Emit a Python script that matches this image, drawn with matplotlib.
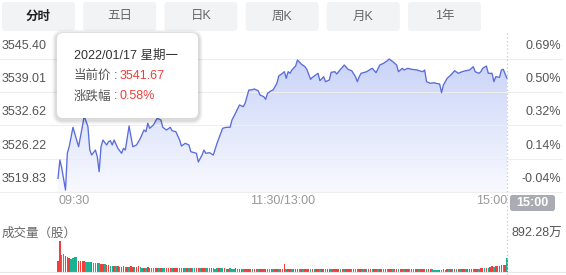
import numpy as np
import matplotlib
matplotlib.use('Agg')
import matplotlib.pyplot as plt
import matplotlib.transforms as mtransforms
from matplotlib.patches import FancyBboxPatch

plt.rcParams['font.family'] = ['Liberation Sans', 'Noto Sans CJK SC']

W, H = 566, 275

# price line: minutes after 09:30 (lunch break removed), index points
minutes = [0, 1, 2, 4, 5, 6, 8, 10, 11, 13,
           14, 16, 17, 18, 20, 21, 22, 23, 24, 26,
           27, 28, 29, 30, 32, 34, 35, 36, 38, 39,
           40, 42, 44, 46, 47, 48, 49, 51, 52, 53,
           55, 56, 58, 60, 61, 63, 65, 66, 68, 70,
           71, 74, 75, 77, 78, 79, 81, 83, 85, 87,
           88, 90, 92, 93, 95, 97, 99, 100, 102, 103,
           105, 107, 108, 110, 111, 112, 114, 115, 117, 118,
           120, 121, 122, 123, 124, 125, 127, 128, 130, 132,
           133, 135, 136, 139, 140, 142, 143, 145, 146, 148,
           149, 151, 152, 153, 155, 157, 159, 160, 161, 162,
           165, 167, 168, 170, 172, 174, 176, 177, 179, 181,
           182, 184, 185, 187, 189, 192, 193, 195, 196, 197,
           199, 201, 202, 204, 205, 206, 208, 210, 212, 214,
           216, 218, 220, 222, 223, 225, 226, 227, 229, 230,
           232, 233, 234, 236, 237, 238, 240]
prices = [3522.46, 3525.98, 3524.44, 3520.21, 3527.33, 3528.54, 3532.27, 3529.83, 3528.54, 3532.38,
          3534.44, 3532.38, 3527.90, 3526.94, 3527.90, 3526.62, 3523.73, 3528.54, 3529.83, 3528.87,
          3529.50, 3529.69, 3528.87, 3529.83, 3528.23, 3527.27, 3528.23, 3527.90, 3532.52, 3530.46,
          3528.54, 3528.87, 3530.15, 3531.75, 3531.42, 3533.04, 3532.08, 3532.71, 3533.35, 3534.00,
          3533.67, 3532.27, 3531.75, 3532.27, 3531.62, 3531.42, 3529.83, 3528.67, 3529.19, 3528.87,
          3527.58, 3527.27, 3525.60, 3526.94, 3527.90, 3527.27, 3527.39, 3526.94, 3529.19, 3531.12,
          3532.08, 3532.27, 3532.27, 3533.67, 3535.08, 3536.56, 3536.23, 3536.88, 3539.44, 3539.44,
          3539.63, 3539.31, 3538.48, 3538.15, 3537.65, 3538.81, 3539.31, 3539.44, 3540.73, 3542.13,
          3542.65, 3542.96, 3541.69, 3542.96, 3542.65, 3543.29, 3544.05, 3545.21, 3544.44, 3543.92,
          3543.42, 3541.50, 3541.88, 3542.65, 3541.23, 3542.00, 3541.04, 3541.36, 3542.84, 3542.96,
          3542.52, 3543.42, 3543.80, 3544.25, 3543.42, 3543.15, 3542.00, 3541.04, 3542.00, 3542.65,
          3542.96, 3543.42, 3543.61, 3542.77, 3544.25, 3544.57, 3545.07, 3545.40, 3544.88, 3544.25,
          3542.96, 3543.61, 3543.29, 3543.61, 3543.42, 3543.29, 3543.15, 3542.96, 3543.29, 3541.04,
          3540.73, 3540.84, 3540.73, 3540.59, 3538.92, 3540.40, 3541.69, 3542.32, 3543.15, 3542.65,
          3542.96, 3543.15, 3543.29, 3543.92, 3542.96, 3542.65, 3542.96, 3543.61, 3544.05, 3542.65,
          3542.65, 3541.04, 3542.00, 3541.88, 3543.29, 3543.42, 3541.67]

price_ticks = [3545.40, 3539.01, 3532.62, 3526.22, 3519.83]
pct_labels = ['0.69%', '0.50%', '0.32%', '0.14%', '-0.04%']
time_ticks = [0, 120, 240]
time_labels = ['09:30', '11:30/13:00', '15:00']

# volume per minute, 万股
volume = [310, 892, 500, 510, 460, 440, 410, 380, 395, 440,
          430, 330, 320, 315, 310, 300, 300, 290, 280, 275,
          270, 262, 255, 245, 240, 232, 215, 200, 180, 175,
          170, 172, 165, 150, 148, 182, 146, 150, 140, 175,
          142, 150, 138, 170, 135, 130, 125, 128, 132, 120,
          125, 118, 122, 120, 115, 118, 122, 117, 112, 115,
          110, 112, 108, 115, 120, 110, 108, 105, 110, 112,
          115, 108, 105, 110, 104, 106, 108, 102, 110, 112,
          108, 118, 110, 104, 100, 112, 105, 102, 108, 104,
          100, 98, 104, 96, 100, 102, 98, 96, 100, 92,
          95, 98, 94, 90, 96, 92, 88, 94, 90, 86,
          90, 88, 84, 80, 76, 82, 78, 86, 84, 90,
          92, 232, 95, 90, 96, 92, 88, 94, 90, 92,
          88, 92, 94, 90, 86, 92, 90, 88, 94, 90,
          92, 88, 90, 86, 84, 92, 88, 90, 86, 84,
          88, 90, 86, 84, 82, 88, 86, 90, 84, 86,
          82, 84, 86, 88, 84, 80, 86, 88, 82, 84,
          86, 80, 82, 84, 78, 80, 84, 82, 86, 80,
          82, 78, 80, 84, 86, 82, 80, 78, 82, 84,
          80, 78, 82, 80, 76, 78, 84, 80, 78, 82,
          76, 72, 70, 68, 72, 70, 74, 72, 76, 74,
          78, 80, 76, 78, 82, 80, 84, 82, 86, 84,
          88, 86, 90, 88, 92, 96, 110, 120, 118, 125,
          130, 150, 160, 155, 170, 175, 180, 190, 195, 215,
          410]
vol_max = 892.28
vol_dirs = ("rrggrrrggg" "grrrrgggrg" "grgrrgrrgg" "rgrgrrgrgr" "rgrrggrgrr"
            "ggrrgrggrr" "rgrrrggrgr" "grggrrgrrg" "ggrgggrggr" "grgggrgrrg"
            "rrrrgrrgrr" "rrggrgrrgr" "rrgrrgrrrg" "rgrrrgrgrr" "grrgrrgrrr"
            "rgrgrrrgrg" "grrgrgrrgr" "rgrrgrgrrg" "rrgrrgrrgr" "grrgrrrgrr"
            "ggggrgggrg" "rgrgrgrrgr" "rrgrrgrrgr" "grrgrrrrgr" "g")

tabs = ['分时', '五日', '日K', '周K', '月K', '1年']

RED = '#f23d3d'
GREEN = '#19b394'
LINE = '#5a6cdb'

fig = plt.figure(figsize=(W / 100, H / 100), dpi=100)
fig.patch.set_facecolor('white')


def box(x0, y0, x1, y1):
    return [x0 / W, 1 - y1 / H, (x1 - x0) / W, (y1 - y0) / H]


# ---- price panel
ax = fig.add_axes(box(58, 59, 507, 192))
ax.set_xlim(0, 240)
ax.set_ylim(price_ticks[-1], price_ticks[0])
ax.axis('off')

poly = ax.fill_between(minutes, prices, price_ticks[-1], color='none', lw=0)
top = np.array([0.79, 0.83, 0.97])
bot = np.array([0.975, 0.98, 1.0])
t = np.linspace(0, 1, 256)[:, None, None]
grad = top[None, None, :] + (bot - top)[None, None, :] * t
im = ax.imshow(grad, extent=[0, 240, price_ticks[-1], price_ticks[0]],
               aspect='auto', origin='upper', zorder=1)
im.set_clip_path(poly.get_paths()[0], transform=ax.transData)

for v in price_ticks:
    ax.axhline(v, xmin=-58 / 449, xmax=(562 - 58) / 449, color='#eeeeee',
               lw=0.8, clip_on=False, zorder=1.5)
ax.plot(minutes, prices, color=LINE, lw=0.95, clip_on=False, zorder=3)

lab_tr = mtransforms.offset_copy(
    mtransforms.blended_transform_factory(fig.transFigure, ax.transData),
    fig=fig, x=0, y=13, units='dots')
for v, p in zip(price_ticks, pct_labels):
    ax.text(2 / W, v, f'{v:.2f}', transform=lab_tr, ha='left', va='center',
            fontsize=9, color='#555555')
    ax.text(561 / W, v, p, transform=lab_tr, ha='right', va='center',
            fontsize=9, color='#555555')

time_tr = mtransforms.offset_copy(
    mtransforms.blended_transform_factory(ax.transData, ax.transAxes),
    fig=fig, x=0, y=-9, units='dots')
for m, s, ha in zip(time_ticks, time_labels, ['left', 'center', 'right']):
    ax.text(m, 0, s, transform=time_tr, ha=ha, va='center', fontsize=9,
            color='#999999')

# ---- volume panel
axv = fig.add_axes(box(58, 241.3, 507, 272))
axv.set_xlim(0, 240)
axv.set_ylim(0, vol_max)
axv.axis('off')
axv.bar(range(len(volume)), volume, width=0.8,
        color=[RED if c == 'r' else GREEN for c in vol_dirs], clip_on=False)

# ---- overlay in pixel coordinates
ov = fig.add_axes([0, 0, 1, 1], zorder=10)
ov.set_xlim(0, W)
ov.set_ylim(H, 0)
ov.axis('off')
ov.patch.set_alpha(0)

for i, s in enumerate(tabs):
    x0 = 2 + i * 81.2
    ov.add_patch(FancyBboxPatch((x0, 2), 73, 29, boxstyle='round,pad=0,rounding_size=3',
                                fc='#f2f3f5', ec='none'))
    ov.text(x0 + 36.5, 16.5, s, ha='center', va='center', fontsize=9,
            color='#222222' if i == 0 else '#666666',
            fontweight='bold' if i == 0 else 'normal')

ov.plot([507, 507], [33, 275], color='#c9c9c9', lw=0.9, ls=(0, (1, 2)))
ov.plot([0, W], [272, 272], color='#e8e8e8', lw=0.8)

ov.add_patch(FancyBboxPatch((510, 195), 45, 16, boxstyle='round,pad=0,rounding_size=2.5',
                            fc='#a9acb3', ec='none'))
ov.text(532.5, 203.5, '15:00', ha='center', va='center', fontsize=9,
        color='white', fontweight='bold')

ov.text(2, 234, '成交量（股）', ha='left', va='center', fontsize=9, color='#666666')
ov.text(562, 234, f'{vol_max:.2f}万', ha='right', va='center', fontsize=9, color='#555555')

# tooltip
for k, a in enumerate([0.025, 0.03, 0.04, 0.05]):
    p = 5 - k
    ov.add_patch(FancyBboxPatch((57 - p, 33 - p + 1.5), 141 + 2 * p, 85 + 2 * p,
                                boxstyle='round,pad=0,rounding_size=%g' % (6 + p),
                                fc='black', ec='none', alpha=a))
ov.add_patch(FancyBboxPatch((57, 33), 141, 85, boxstyle='round,pad=0,rounding_size=6',
                            fc='white', ec='none'))
ov.text(74, 56, '2022/01/17 星期一', ha='left', va='center', fontsize=9, color='#333333')
for yy, name, val in [(76, '当前价', '3541.67'), (96, '涨跌幅', '0.58%')]:
    ov.text(74, yy, name, ha='left', va='center', fontsize=9, color='#555555')
    ov.text(115.5, yy, ':', ha='center', va='center', fontsize=9, color='#555555')
    ov.text(120, yy, val, ha='left', va='center', fontsize=9, color='#e8413e')

fig.savefig('out.png', dpi=100)
